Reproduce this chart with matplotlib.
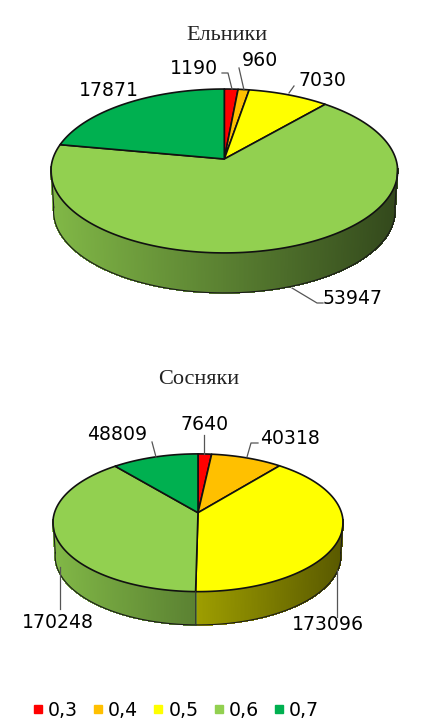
import matplotlib
matplotlib.use("Agg")
import matplotlib.pyplot as plt
import numpy as np
from matplotlib.collections import PolyCollection
from matplotlib.lines import Line2D
from matplotlib.patches import Polygon

classes = ["0,3", "0,4", "0,5", "0,6", "0,7"]
colors = ["#ff0000", "#ffc000", "#ffff00", "#92d050", "#00b050"]
spruce = [1190, 960, 7030, 53947, 17871]
pine = [7640, 40318, 173096, 170248, 48809]


def rim(theta, cx, cy, a, b, k=0.146):
    # perspective circle, theta clockwise from the top
    X, Y = np.sin(theta), np.cos(theta)
    d = 1 + k * Y
    return cx + a * X / d, cy - b * Y / d


def draw_pie(ax, values, cx, cy, a, b, depth):
    edges = np.concatenate([[0], np.cumsum(values)]) / np.sum(values) * 2 * np.pi

    # side wall first, darker to the right
    quads, shades = [], []
    for i in range(len(values)):
        lo, hi = max(edges[i], np.pi / 2 + 0.1), min(edges[i + 1], 3 * np.pi / 2 - 0.1)
        if hi <= lo:
            continue
        ts = np.linspace(lo, hi, int((hi - lo) * 120) + 2)
        base = np.array(matplotlib.colors.to_rgb(colors[i]))
        for t0, t1 in zip(ts[:-1], ts[1:]):
            x0, y0 = rim(t0, cx, cy, a, b)
            x1, y1 = rim(t1, cx, cy, a, b)
            x2, y2 = rim(t1, cx, cy + depth, a * 0.985, b)
            x3, y3 = rim(t0, cx, cy + depth, a * 0.985, b)
            frac = ((x0 + x1) / 2 - (cx - a)) / (2 * a)
            quads.append([(x0, y0), (x1, y1), (x2, y2), (x3, y3)])
            shades.append(base * (0.88 - 0.53 * frac))
    ax.add_collection(PolyCollection(quads, facecolors=shades, edgecolors=shades,
                                     linewidths=0.6, antialiaseds=False))

    # outline of the wall
    ts = np.linspace(np.pi / 2 + 0.1, 3 * np.pi / 2 - 0.1, 200)
    x, y = rim(ts, cx, cy + depth, a * 0.985, b)
    ax.plot(x, y, color="#1a1a1a", lw=0.8)
    for t in (ts[0], ts[-1]):
        xt, yt = rim(t, cx, cy, a, b)
        xb, yb = rim(t, cx, cy + depth, a * 0.985, b)
        ax.plot([xt, xb], [yt, yb], color="#1a1a1a", lw=0.8)

    # dividers on the wall
    for e in edges[1:-1]:
        if np.pi / 2 < e < 3 * np.pi / 2:
            xt, yt = rim(e, cx, cy, a, b)
            xb, yb = rim(e, cx, cy + depth, a * 0.985, b)
            ax.plot([xt, xb], [yt, yb], color="#333333", lw=0.7)

    # top surface
    for i in range(len(values)):
        ts = np.linspace(edges[i], edges[i + 1], 200)
        x, y = rim(ts, cx, cy, a, b)
        pts = np.column_stack([np.r_[cx, x], np.r_[cy, y]])
        ax.add_patch(Polygon(pts, fc=colors[i], ec="#111111", lw=1.2, joinstyle="round"))


fig = plt.figure(figsize=(4.27, 7.28), dpi=100)
ax = fig.add_axes([0, 0, 1, 1])
ax.set_xlim(0, 427)
ax.set_ylim(728, 0)
ax.axis("off")

draw_pie(ax, spruce, 224.3, 159, 171.5, 80.2, 40)
draw_pie(ax, pine, 198, 512.7, 143.5, 67.4, 33.3)

ax.text(226.5, 36, "Ельники", family="Liberation Serif", fontsize=16, ha="center", va="center", color="#222222")
ax.text(199, 380, "Сосняки", family="Liberation Serif", fontsize=16, ha="center", va="center", color="#222222")

# value labels and their leader lines
label_kw = dict(fontsize=13.6, ha="center", va="center", color="black")
spruce_pos = [(194, 69), (260, 61), (322, 80), (353, 298), (109, 91)]
for v, p in zip(spruce, spruce_pos):
    ax.text(p[0], p[1], str(v), **label_kw)
pine_pos = [(204.5, 424), (290, 438), (327.5, 624), (58, 622), (117, 434)]
for v, p in zip(pine, pine_pos):
    ax.text(p[0], p[1], str(v), **label_kw)

leaders = [
    [(222, 73), (228, 73), (232, 89)],
    [(239, 68), (244, 90)],
    [(294, 86), (289, 93)],
    [(292, 288), (317, 303), (323, 303)],
    [(204, 435), (204, 454)],
    [(258, 443), (251, 443), (247, 457)],
    [(152, 442), (156, 457)],
    [(60, 567), (60, 609)],
    [(337, 570), (337, 617)],
]
for line in leaders:
    xs, ys = zip(*line)
    ax.plot(xs, ys, color="#555555", lw=0.9)

handles = [Line2D([], [], ls="", marker="s", ms=5.4, color=c) for c in colors]
ax.legend(handles, classes, loc="center", bbox_to_anchor=(176 / 427, 1 - 710 / 728), ncol=5,
          frameon=False, fontsize=13.6, handlelength=0.55, handletextpad=0.25,
          columnspacing=0.8, borderpad=0, borderaxespad=0)

fig.savefig("out.png", dpi=100)
